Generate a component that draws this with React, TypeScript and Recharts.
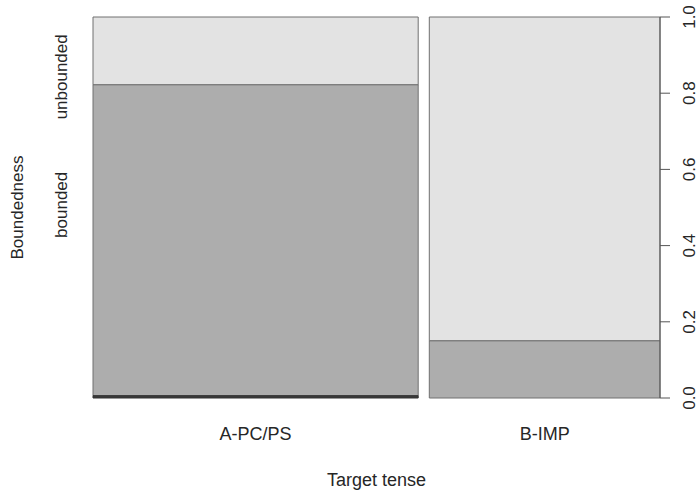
import { ComposedChart, XAxis, YAxis, ReferenceArea, Line } from "recharts";

const categories = ["A-PC/PS", "B-IMP"];
const categoryShare = [0.585, 0.415];
const lowShare = [0.006, 0];
const boundedShare = [0.816, 0.15];
const unboundedShare = [0.178, 0.85];
const yLevelLabels = ["bounded", "unbounded"];
const yLevelAt = [0.507, 0.843];
const rightTicks = [0, 0.2, 0.4, 0.6, 0.8, 1];
const GAP = 0.02;

const FONT = "'Liberation Sans', Arial, sans-serif";
const INK = "#262626";

// one spine per category, widths proportional to the category share
const spines = categories.map((name, i) => {
  const x0 = categoryShare.slice(0, i).reduce((s, v) => s + v + GAP, 0);
  const x1 = x0 + categoryShare[i];
  return {
    name,
    x0,
    x1,
    mid: (x0 + x1) / 2,
    low: lowShare[i],
    bounded: boundedShare[i],
    unbounded: unboundedShare[i],
  };
});
const xMax = spines[spines.length - 1].x1;

const segFill = { low: "#3a3a3a", bounded: "#adadad", unbounded: "#e3e3e3" };

const CategoryTick = (props: any) => {
  const { x, y, payload } = props;
  const idx = spines.findIndex((s) => Math.abs(s.mid - payload.value) < 1e-9);
  return (
    <text x={x} y={y + 42} textAnchor="middle" fontSize={18} fontFamily={FONT} fill={INK}>
      {idx >= 0 ? spines[idx].name : ""}
    </text>
  );
};

const LevelTick = (props: any) => {
  const { x, y, payload } = props;
  const idx = yLevelAt.findIndex((v) => Math.abs(v - payload.value) < 1e-9);
  return (
    <text
      x={x}
      y={y}
      transform={`rotate(-90, ${x}, ${y})`}
      textAnchor="middle"
      fontSize={17}
      fontFamily={FONT}
      fill={INK}
    >
      {idx >= 0 ? yLevelLabels[idx] : ""}
    </text>
  );
};

const RightTick = (props: any) => {
  const { x, y, payload } = props;
  return (
    <text
      x={x}
      y={y}
      transform={`rotate(-90, ${x}, ${y})`}
      textAnchor="middle"
      fontSize={17}
      fontFamily={FONT}
      fill={INK}
    >
      {Number(payload.value).toFixed(1)}
    </text>
  );
};

const YTitle = (props: any) => {
  const { viewBox } = props;
  const x = viewBox.x + 23;
  const y = viewBox.y + viewBox.height / 2;
  return (
    <text x={x} y={y} transform={`rotate(-90, ${x}, ${y})`} textAnchor="middle" fontSize={17} fontFamily={FONT} fill={INK}>
      Boundedness
    </text>
  );
};

const XTitle = (props: any) => {
  const { viewBox } = props;
  return (
    <text
      x={viewBox.x + viewBox.width / 2}
      y={viewBox.y + viewBox.height - 2}
      textAnchor="middle"
      fontSize={18}
      fontFamily={FONT}
      fill={INK}
    >
      Target tense
    </text>
  );
};

export default function App() {
  return (
    <div style={{ position: "absolute", left: 0, top: 0, background: "#fff" }}>
      <ComposedChart
        width={700}
        height={492}
        data={spines}
        margin={{ top: 17, right: 0, bottom: 4, left: 0 }}
      >
        <XAxis
          type="number"
          dataKey="mid"
          domain={[0, xMax]}
          ticks={spines.map((s) => s.mid)}
          tick={<CategoryTick />}
          tickSize={0}
          tickMargin={0}
          axisLine={false}
          tickLine={false}
          height={90}
          allowDataOverflow
          label={<XTitle />}
        />
        <YAxis
          yAxisId="lab"
          orientation="left"
          type="number"
          domain={[0, 1]}
          ticks={yLevelAt}
          tick={<LevelTick />}
          tickSize={0}
          tickMargin={26}
          axisLine={false}
          tickLine={false}
          width={93}
          allowDataOverflow
          label={<YTitle />}
        />
        <YAxis
          yAxisId="r"
          orientation="right"
          type="number"
          domain={[0, 1]}
          ticks={rightTicks}
          tick={<RightTick />}
          tickSize={10}
          tickMargin={25}
          axisLine={{ stroke: "#555" }}
          tickLine={{ stroke: "#555" }}
          width={40}
          allowDataOverflow
        />
        {/* invisible series so both value axes get a domain */}
        <Line yAxisId="lab" dataKey="bounded" stroke="none" dot={false} activeDot={false} isAnimationActive={false} />
        <Line yAxisId="r" dataKey="bounded" stroke="none" dot={false} activeDot={false} isAnimationActive={false} />
        {spines.map((s) => (
          <ReferenceArea
            key={s.name + "-u"}
            yAxisId="r"
            x1={s.x0}
            x2={s.x1}
            y1={s.low + s.bounded}
            y2={1}
            fill={segFill.unbounded}
            fillOpacity={1}
            stroke="#707070"
            strokeWidth={1}
            ifOverflow="visible"
          />
        ))}
        {spines.map((s) => (
          <ReferenceArea
            key={s.name + "-b"}
            yAxisId="r"
            x1={s.x0}
            x2={s.x1}
            y1={s.low}
            y2={s.low + s.bounded}
            fill={segFill.bounded}
            fillOpacity={1}
            stroke="#707070"
            strokeWidth={1}
            ifOverflow="visible"
          />
        ))}
        {spines
          .filter((s) => s.low > 0)
          .map((s) => (
            <ReferenceArea
              key={s.name + "-l"}
              yAxisId="r"
              x1={s.x0}
              x2={s.x1}
              y1={0}
              y2={s.low}
              fill={segFill.low}
              fillOpacity={1}
              stroke="#333"
              strokeWidth={1}
              ifOverflow="visible"
            />
          ))}
      </ComposedChart>
    </div>
  );
}
